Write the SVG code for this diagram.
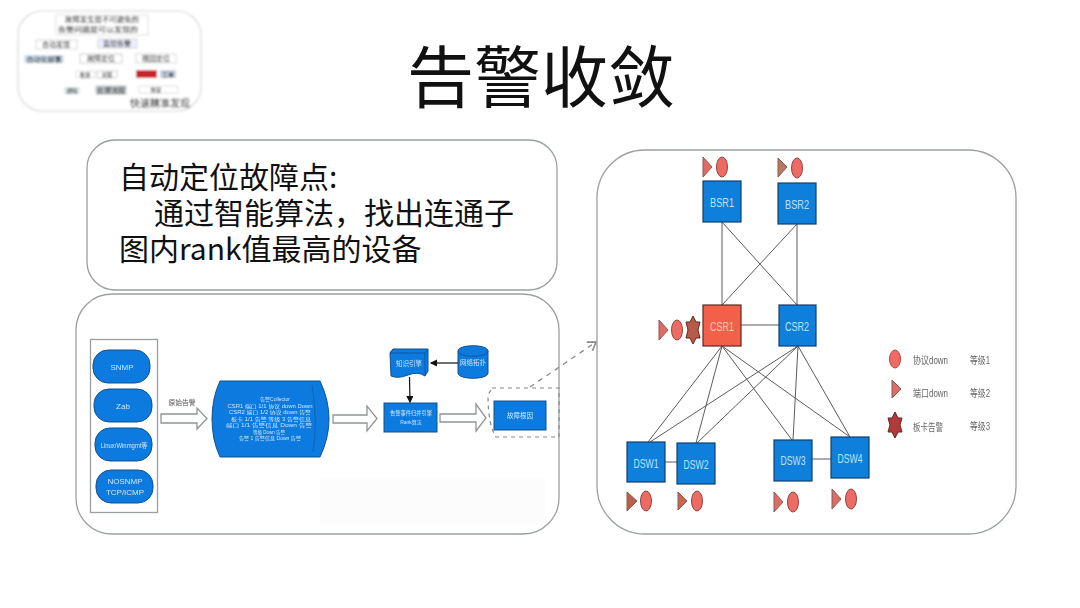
<svg xmlns="http://www.w3.org/2000/svg" width="1080" height="608" viewBox="0 0 1080 608">
<defs>
<filter id="b1" x="-10%" y="-10%" width="120%" height="120%"><feGaussianBlur stdDeviation="0.9"/></filter>
<filter id="b2" x="-10%" y="-10%" width="120%" height="120%"><feGaussianBlur stdDeviation="0.45"/></filter>
<marker id="ah" markerWidth="7" markerHeight="7" refX="5" refY="3" orient="auto"><path d="M0 0L6 3L0 6z" fill="#111"/></marker>
<marker id="gh" markerWidth="9" markerHeight="9" refX="7" refY="4" orient="auto"><path d="M1 0L7 4L1 8" fill="none" stroke="#888" stroke-width="1.2"/></marker>
</defs>
<style>
text{font-family:"Liberation Sans","Noto Sans CJK SC",sans-serif}
.cn{font-family:"Noto Sans CJK SC",sans-serif;fill:#111}
.panel{fill:#fff;stroke:#9aa0a0;stroke-width:1.3}
.blue{fill:#0a7ae0;stroke:#14508c;stroke-width:1}
.node{fill:#0f7fdc;stroke:#123f6c;stroke-width:1.2}
.lbl{fill:#bfe3fb;font-size:13px;text-anchor:middle}
.s{fill:#cfe8fb;text-anchor:middle}
.red{fill:#ee6a62;stroke:#8a4a44;stroke-width:1}
.tri{fill:#df6a66;stroke:#8a5a50;stroke-width:1}
.blk{fill:#fff;stroke:#8f9494;stroke-width:1.3}
.ln{stroke:#5c5c5c;stroke-width:1;fill:none}
.leg{fill:#666;font-size:10px}
</style>
<rect width="1080" height="608" fill="#fff"/>

<g id="thumbnail" filter="url(#b1)">
<rect x="18" y="11" width="183" height="100" rx="24" fill="#fff" stroke="#d6d8d8" stroke-width="1.2"/>
<rect x="56" y="15" width="92" height="20" fill="#fff" stroke="#ccc" stroke-width="0.6"/>
<text x="102" y="22" font-size="6.500" textLength="74" lengthAdjust="spacingAndGlyphs" text-anchor="middle" class="cn">故障发生是不可避免的</text>
<text x="98" y="31.500" font-size="6.500" textLength="80" lengthAdjust="spacingAndGlyphs" text-anchor="middle" class="cn">告警问题是可以发现的</text>
<rect x="36" y="40" width="41" height="9" fill="#fff" stroke="#bbb" stroke-width="0.6"/>
<text x="56" y="47" font-size="7" text-anchor="middle" class="cn">自动发现</text>
<rect x="98" y="39" width="39" height="9" fill="#eef" stroke="#bbb" stroke-width="0.6"/>
<text x="117" y="46" font-size="7" text-anchor="middle" class="cn">监控告警</text>
<rect x="24" y="55" width="40" height="8" fill="#cfe0ee"/>
<text x="44" y="62" font-size="7" text-anchor="middle" class="cn">自动化部署</text>
<rect x="80" y="54" width="42" height="9" fill="#fff" stroke="#aaa" stroke-width="0.6"/>
<text x="101" y="61" font-size="7" text-anchor="middle" class="cn">故障定位</text>
<rect x="136" y="54" width="40" height="9" fill="#fff" stroke="#bbb" stroke-width="0.6"/>
<text x="156" y="61" font-size="7" text-anchor="middle" class="cn">根因定位</text>
<rect x="76" y="71" width="19" height="7" fill="#fff" stroke="#ccc" stroke-width="0.6"/>
<text x="85" y="77" font-size="5.500" text-anchor="middle" class="cn">收敛</text>
<rect x="97" y="71" width="20" height="7" fill="#fff" stroke="#aaa" stroke-width="0.6"/>
<text x="107" y="77" font-size="5.500" text-anchor="middle" class="cn">关联</text>
<rect x="136" y="70" width="21" height="8" fill="#c8202f"/>
<rect x="160" y="70" width="16" height="8" fill="#c8d0e4"/>
<text x="168" y="77" font-size="6" text-anchor="middle" class="cn">工单</text>
<rect x="64" y="87" width="16" height="7" fill="#dce8e8"/>
<text x="72" y="93" font-size="5.500" text-anchor="middle" class="cn">通知</text>
<rect x="96" y="86" width="30" height="8" fill="#ccd6d8" stroke="#888" stroke-width="0.5"/>
<text x="111" y="93" font-size="7" text-anchor="middle" class="cn">处理流程</text>
<rect x="139" y="86" width="39" height="7" fill="#fff" stroke="#ccc" stroke-width="0.6"/>
<text x="156" y="92" font-size="5.500" text-anchor="middle" class="cn">恢复</text>
<text x="160" y="107" font-size="10" text-anchor="middle" class="cn">快速精准发现</text>
</g>

<text id="title" x="541" y="102" font-size="67" text-anchor="middle" class="cn">告警收敛</text>

<g id="text-panel">
<rect class="panel" x="87" y="140" width="470" height="150" rx="28"/>
<text x="119" y="188" font-size="30" class="cn">自动定位故障点:</text>
<text x="154" y="224" font-size="30" class="cn">通过智能算法，找出连通子</text>
<text x="119" y="260" font-size="30" class="cn">图内rank值最高的设备</text>
</g>

<g id="flow-panel">
<rect class="panel" x="76" y="294" width="483" height="240" rx="36"/>
<rect x="320" y="478" width="225" height="46" fill="#fcfcfc" filter="url(#b1)"/>
<rect x="90.500" y="339.500" width="67" height="173" fill="#fff" stroke="#9a9e9e" stroke-width="1.3"/>
</g>

<g id="sources" filter="url(#b2)">
<g id="src1"><rect class="blue" x="93" y="350" width="57" height="33" rx="15"/><text class="s" x="122" y="370" font-size="8" textLength="23" lengthAdjust="spacingAndGlyphs">SNMP</text></g>
<g id="src2"><rect class="blue" x="94" y="389" width="58" height="33" rx="15"/><text class="s" x="123" y="409" font-size="8">Zab</text></g>
<g id="src3"><rect class="blue" x="95" y="428" width="57" height="33" rx="15"/><text class="s" x="124" y="448" font-size="7" textLength="47" lengthAdjust="spacingAndGlyphs">Linux/Winmgmt等</text></g>
<g id="src4"><rect class="blue" x="96" y="470" width="57" height="33" rx="15"/><text class="s" x="125" y="484" font-size="8">NOSNMP</text><text class="s" x="125" y="495" font-size="8">TCP/ICMP</text></g>
</g>

<g id="barrel" filter="url(#b2)">
<path class="blue" d="M220 381H320Q329 400 329 419T320 457H220Q212 440 212 419T220 381Z"/>
<path d="M312 385Q318 420 313 452" fill="none" stroke="#1460a8" stroke-width="0.8"/>
<text class="s" font-size="4.500" x="275" y="401" textLength="30" lengthAdjust="spacingAndGlyphs">告警Collector</text>
<text class="s" font-size="4.500" x="270" y="407.500" textLength="85" lengthAdjust="spacingAndGlyphs">CSR1 端口 1/1 协议 down Down</text>
<text class="s" font-size="4.500" x="270" y="414" textLength="82" lengthAdjust="spacingAndGlyphs">CSR2 端口 1/2 协议 down 告警</text>
<text class="s" font-size="4.500" x="271" y="420.500" textLength="80" lengthAdjust="spacingAndGlyphs">板卡 1/1 告警 等级 3 告警信息</text>
<text class="s" font-size="4.500" x="269" y="427" textLength="86" lengthAdjust="spacingAndGlyphs">端口 1/1 告警信息 Down 告警</text>
<text class="s" font-size="4.500" x="269" y="433.500" textLength="32" lengthAdjust="spacingAndGlyphs">等级 Down 告警</text>
<text class="s" font-size="4.500" x="270" y="440" textLength="62" lengthAdjust="spacingAndGlyphs">告警 1 告警信息 Down 告警</text>
</g>

<g id="block-arrows">
<path class="blk" d="M161 414H197V408L207 418.500L197 429V423H161Z"/>
<text x="182" y="405" font-size="6.800" text-anchor="middle" class="cn" filter="url(#b2)" style="fill:#555">原始告警</text>
<path class="blk" d="M333 415H367V406L377 418.500L367 431V423H333Z"/>
<path class="blk" d="M440 414H476V404L486 418L476 431V422H440Z"/>
</g>

<g id="engine" filter="url(#b2)"><rect class="blue" x="384" y="403" width="53" height="29"/><text class="s" x="411" y="415" font-size="6" textLength="42" lengthAdjust="spacingAndGlyphs">告警事件归并引擎</text><text class="s" x="411" y="424" font-size="5">Rank算法</text></g>
<g id="library" filter="url(#b2)"><path class="blue" d="M393 349H428V371L425 376Q418 371 408 375T391 376L390 353Z"/><path d="M393 349L390 353H425L428 349M425 353V376" fill="none" stroke="#14508c" stroke-width="0.7"/><text class="s" x="409" y="366" font-size="6.500">知识引擎</text></g>
<g id="database" filter="url(#b2)"><path class="blue" d="M458 351C458 344 488 344 488 351V373C488 380 458 380 458 373Z"/><path d="M458 351C458 358 488 358 488 351" fill="none" stroke="#14508c" stroke-width="0.8"/><text class="s" x="473" y="365" font-size="6.500">网络拓扑</text></g>
<g id="result" filter="url(#b2)"><rect class="blue" x="494" y="401" width="52" height="29"/><text class="s" x="520" y="418" font-size="6.500">故障根因</text></g>

<g id="flow-connectors">
<line x1="458" y1="363" x2="431" y2="363" stroke="#111" stroke-width="1.200" marker-end="url(#ah)"/>
<line x1="409.500" y1="377" x2="410" y2="402" stroke="#111" stroke-width="1.200" marker-end="url(#ah)"/>
<path d="M530 387L596 342" fill="none" stroke="#888" stroke-width="1.300" stroke-dasharray="5 5" marker-end="url(#gh)"/>
<path d="M492 388H559V437H496Q488 425 488 395Z" fill="none" stroke="#888" stroke-width="1.200" stroke-dasharray="4 4"/>
</g>

<rect id="topology-panel" class="panel" x="597" y="150" width="419" height="384" rx="48" style="fill:none"/>

<g id="connectors">
<path class="ln" d="M722 222V305M722 222L797 305M797 224L722 305M797 224V305M741 325H779"/>
<path class="ln" d="M722 346L648 442M722 346L696 443M722 346L792 440M722 346L850 437M798 346L650 442M798 346L697 443M798 346L793 440M798 346L850 437M665 462H677M812 459H831"/>
</g>

<g id="BSR1"><rect class="node" x="703" y="181" width="38" height="41"/><text class="lbl" x="722" y="207" textLength="24" lengthAdjust="spacingAndGlyphs">BSR1</text></g>
<g id="BSR2"><rect class="node" x="778" y="183" width="38" height="41"/><text class="lbl" x="797" y="209" textLength="24" lengthAdjust="spacingAndGlyphs">BSR2</text></g>
<g id="CSR1"><rect x="703" y="305" width="38" height="41" fill="#f2604a" stroke="#5a2a20" stroke-width="1.200"/><text x="722" y="331" font-size="13" text-anchor="middle" fill="#f8c8bc" textLength="24" lengthAdjust="spacingAndGlyphs">CSR1</text></g>
<g id="CSR2"><rect class="node" x="779" y="305" width="37" height="41"/><text class="lbl" x="797" y="331" textLength="24" lengthAdjust="spacingAndGlyphs">CSR2</text></g>
<g id="DSW1"><rect class="node" x="627" y="442" width="38" height="40"/><text class="lbl" x="646" y="468" textLength="25" lengthAdjust="spacingAndGlyphs">DSW1</text></g>
<g id="DSW2"><rect class="node" x="677" y="443" width="38" height="41"/><text class="lbl" x="696" y="469" textLength="25" lengthAdjust="spacingAndGlyphs">DSW2</text></g>
<g id="DSW3"><rect class="node" x="774" y="440" width="38" height="41"/><text class="lbl" x="793" y="465" textLength="25" lengthAdjust="spacingAndGlyphs">DSW3</text></g>
<g id="DSW4"><rect class="node" x="831" y="437" width="38" height="41"/><text class="lbl" x="850" y="463" textLength="25" lengthAdjust="spacingAndGlyphs">DSW4</text></g>

<g id="alarm-markers">
<path class="tri" d="M703 157L712 167L703 177Z"/><ellipse class="red" cx="722" cy="167" rx="5.500" ry="10"/>
<path class="tri" d="M778 158L787 167L778 177Z" style="fill:#b87868"/><ellipse class="red" cx="797" cy="168" rx="5.500" ry="10"/>
<path class="tri" d="M659 320L668 330L659 340Z"/><ellipse class="red" cx="677" cy="330" rx="5.500" ry="10"/>
<path d="M693 316L696 322L700 322L698 330L700 338L696 338L693 344L690 338L686 338L688 330L686 322L690 322Z" fill="#b85a48" stroke="#5a2a20" stroke-width="1"/>
<path class="tri" d="M627 492L637 501L627 511Z" style="fill:#b8604c"/><ellipse class="red" cx="646" cy="501" rx="5.500" ry="10"/>
<path class="tri" d="M678 492L687 501L678 510Z" style="fill:#c8664e"/><ellipse class="red" cx="697" cy="501" rx="5.500" ry="10"/>
<path class="tri" d="M774 492L783 502L774 512Z"/><ellipse class="red" cx="793" cy="502" rx="5.500" ry="10"/>
<path class="tri" d="M832 489L841 499L832 509Z"/><ellipse class="red" cx="851" cy="499" rx="5.500" ry="10"/>
</g>

<g id="legend" filter="url(#b2)">
<ellipse class="red" cx="895" cy="359" rx="5.500" ry="9" style="stroke:#b04a48"/>
<text class="leg" x="913" y="364" textLength="35" lengthAdjust="spacingAndGlyphs">协议down</text><text class="leg" x="970" y="364" textLength="20" lengthAdjust="spacingAndGlyphs">等级1</text>
<path class="tri" d="M892 380L901 389L892 398Z"/>
<text class="leg" x="913" y="397" textLength="35" lengthAdjust="spacingAndGlyphs">端口down</text><text class="leg" x="970" y="397" textLength="20" lengthAdjust="spacingAndGlyphs">等级2</text>
<path d="M895 412L898 418L902 418L900 425L902 432L898 432L895 438L892 432L888 432L890 425L888 418L892 418Z" fill="#b03a3a" stroke="#6a2020" stroke-width="1"/>
<text class="leg" x="913" y="431" textLength="30" lengthAdjust="spacingAndGlyphs">板卡告警</text><text class="leg" x="970" y="430" textLength="20" lengthAdjust="spacingAndGlyphs">等级3</text>
</g>
</svg>
